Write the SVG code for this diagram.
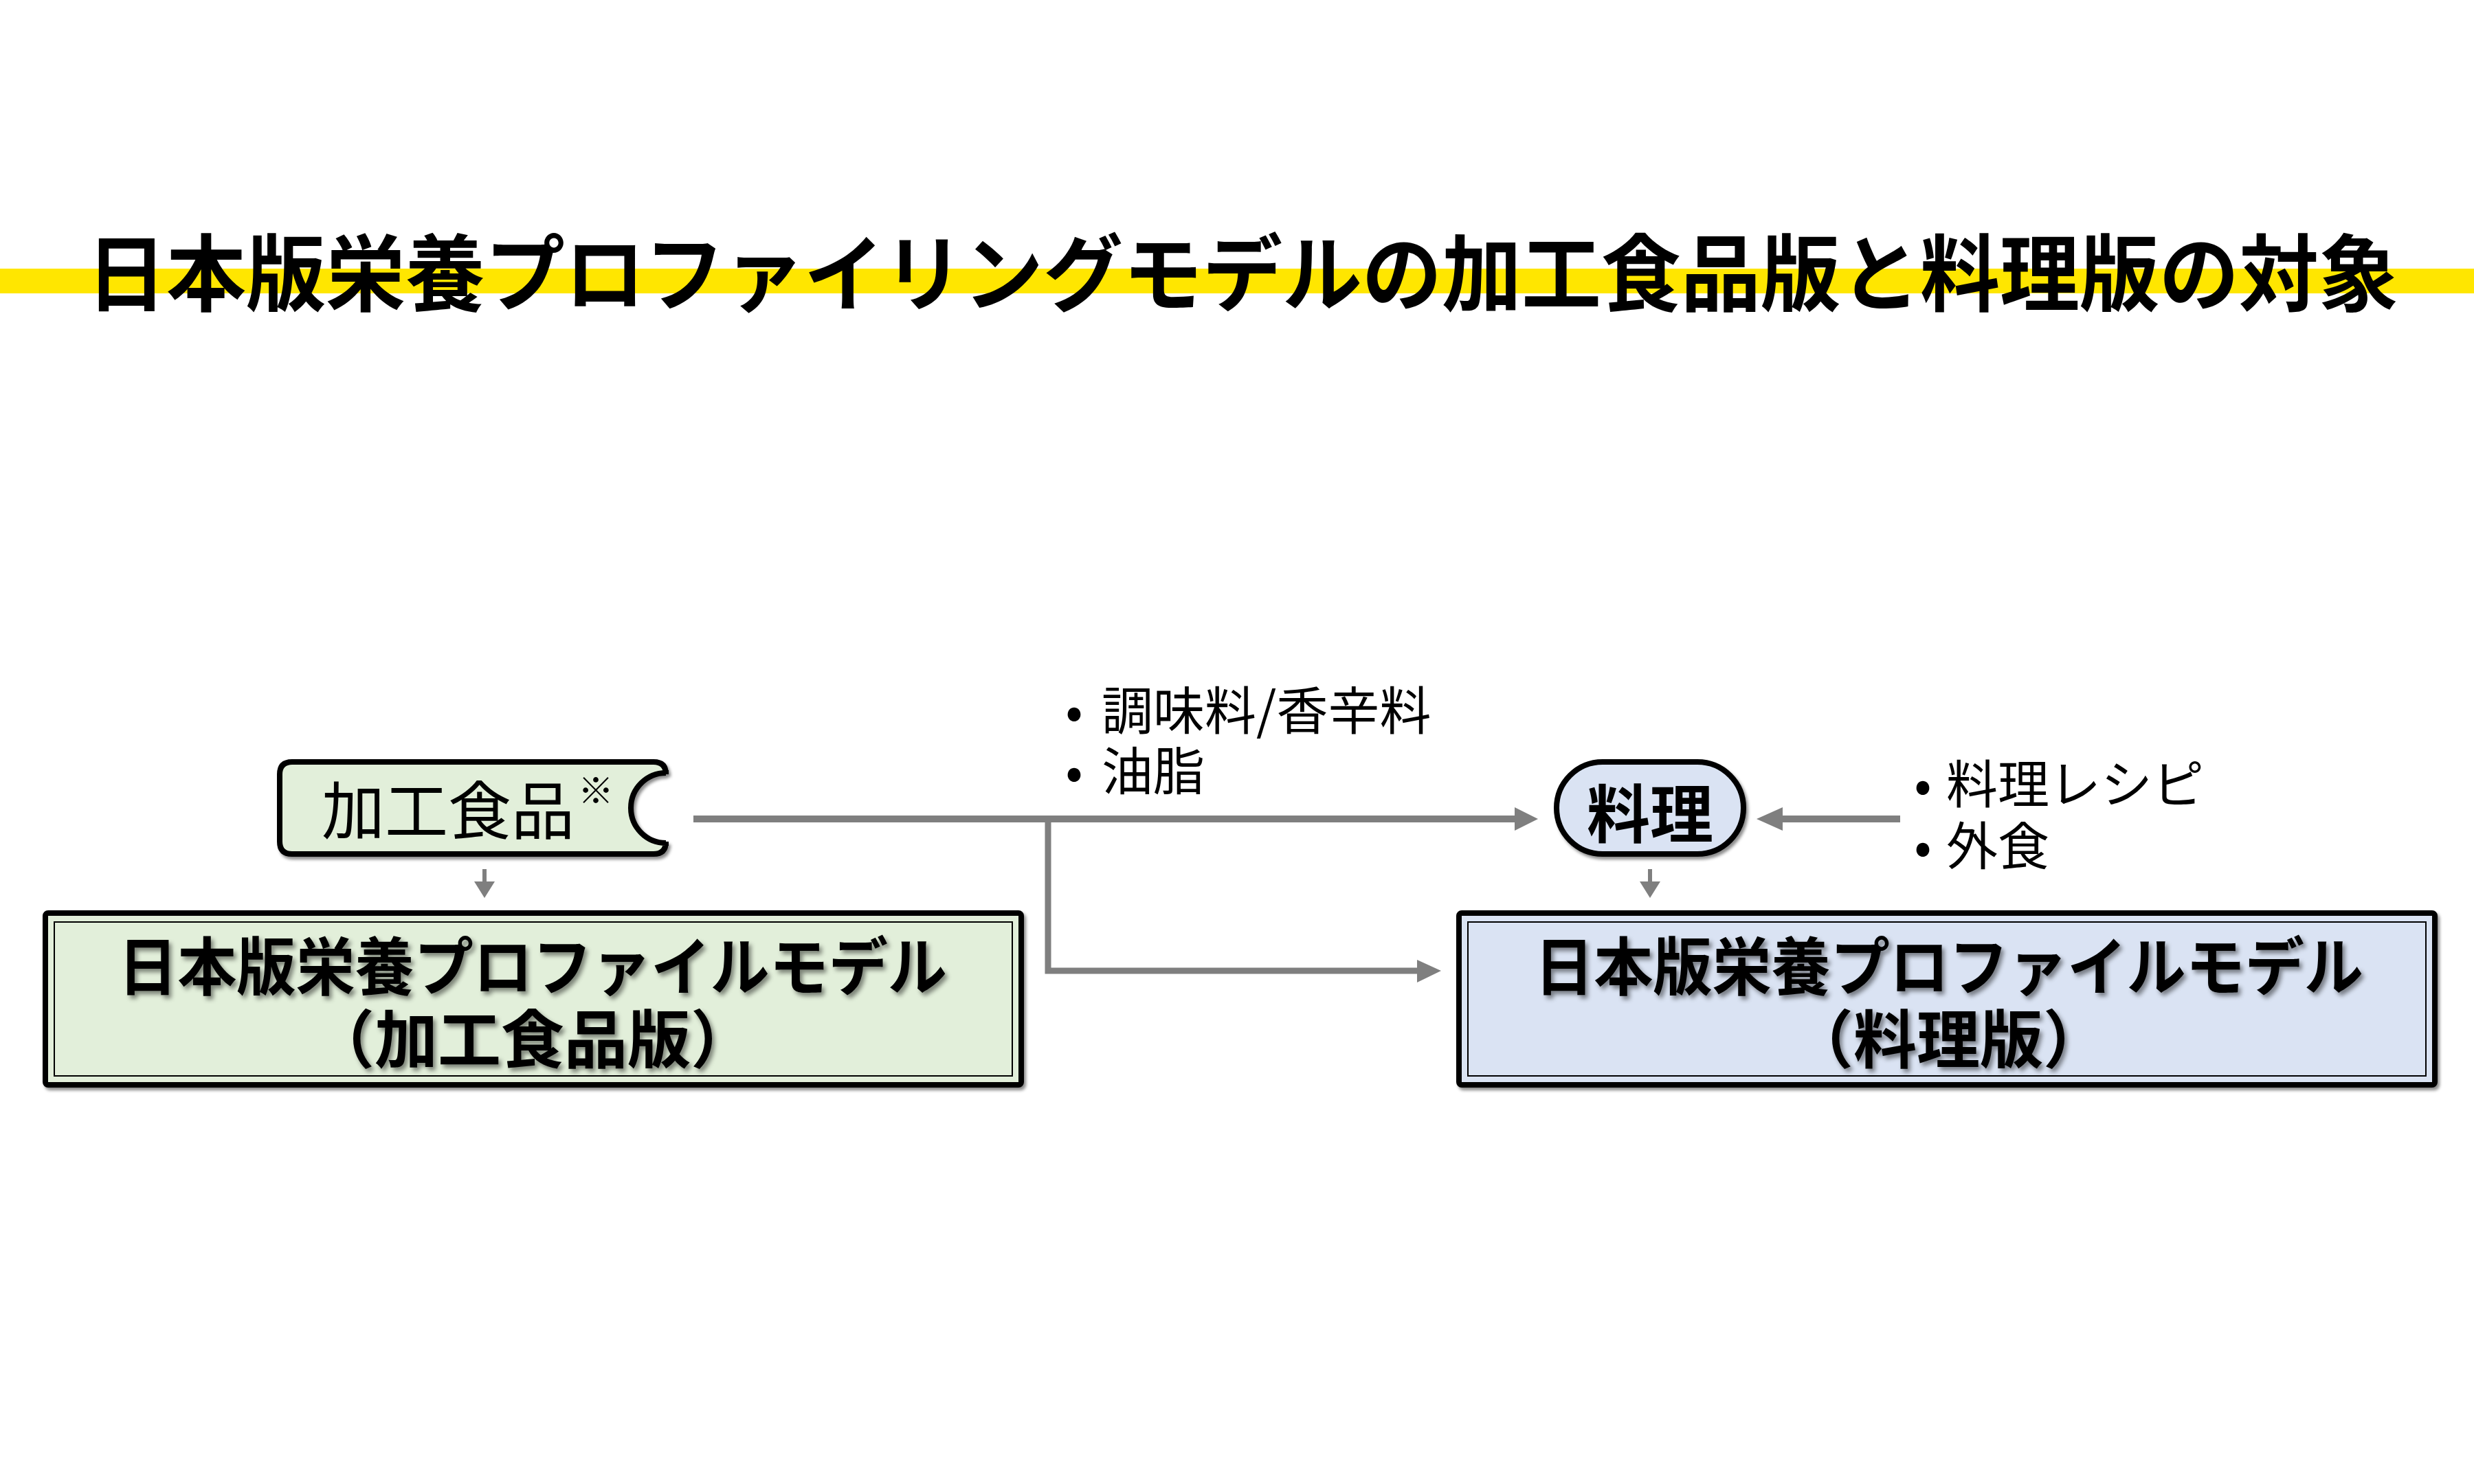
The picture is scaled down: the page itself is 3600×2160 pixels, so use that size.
<svg xmlns="http://www.w3.org/2000/svg" width="3600" height="2160" viewBox="0 0 3600 2160">
<style>
.jp{font-family:"Noto Sans CJK JP","Noto Sans CJK SC",sans-serif;fill:#000}
.title{font-size:122px;font-weight:700}
.node{font-size:92px;font-weight:400}
.nodeb{font-size:92px;font-weight:700}
.box{font-size:92px;font-weight:700}
.lbl{font-size:75px;font-weight:400}
.conn{stroke:#7F7F7F;fill:none}
.head{fill:#7F7F7F}
.green{fill:#E2EFDA}
.blue{fill:#DAE3F3}
</style>
<defs>
<filter id="ts" x="-5%" y="-20%" width="110%" height="140%">
<feDropShadow dx="4" dy="5" stdDeviation="3" flood-color="#000" flood-opacity="0.45"/>
</filter>
<filter id="ss" x="-5%" y="-10%" width="110%" height="125%">
<feDropShadow dx="3" dy="4" stdDeviation="2" flood-color="#000" flood-opacity="0.45"/>
</filter>
</defs>
<rect width="3600" height="2160" fill="#FFFFFF"/>

<g id="title">
<rect x="0" y="391" width="3600" height="36" fill="#FFE600"/>
<text class="jp title" x="126" y="443" textLength="3364" lengthAdjust="spacingAndGlyphs">日本版栄養プロファイリングモデルの加工食品版と料理版の対象</text>
</g>

<g id="connectors">
<line class="conn" x1="1009" y1="1192" x2="2206" y2="1192" stroke-width="10"/>
<polygon class="head" points="2204,1175 2238,1192 2204,1209"/>
<path class="conn" d="M1525 1192 V1413 H2064" stroke-width="9"/>
<polygon class="head" points="2062,1397 2097,1413 2062,1430"/>
<line class="conn" x1="2765" y1="1192" x2="2592" y2="1192" stroke-width="10"/>
<polygon class="head" points="2594,1175 2556,1192 2594,1209"/>
<rect class="head" x="702" y="1265" width="6" height="20"/>
<polygon class="head" points="690,1283 720,1283 705,1307"/>
<rect class="head" x="2398" y="1265" width="6" height="20"/>
<polygon class="head" points="2386,1283 2416,1283 2401,1307"/>
</g>

<g id="node-kakou">
<path class="green" filter="url(#ss)" stroke="#000" stroke-width="8" d="M425 1109 H951 Q969 1109 969 1127 V1125 A51 51 0 0 0 969 1227 V1225 Q969 1243 951 1243 H425 Q407 1243 407 1225 V1127 Q407 1109 425 1109 Z"/>
<text class="jp node" x="652" y="1214" text-anchor="middle">加工食品</text>
<text class="jp" x="867" y="1170" font-size="52" text-anchor="middle">※</text>
</g>

<g id="node-ryouri">
<rect class="blue" filter="url(#ss)" x="2265" y="1109" width="272" height="134" rx="67" ry="67" stroke="#000" stroke-width="8"/>
<text class="jp nodeb" x="2401" y="1219" text-anchor="middle">料理</text>
</g>

<g id="box-kakou">
<rect class="green" filter="url(#ss)" x="66" y="1329" width="1420" height="250" rx="4" stroke="#000" stroke-width="8"/>
<rect x="79" y="1342" width="1394" height="224" fill="none" stroke="#000" stroke-width="2"/>
<g filter="url(#ts)">
<text class="jp box" x="172" y="1441" textLength="1206" lengthAdjust="spacingAndGlyphs">日本版栄養プロファイルモデル</text>
<text class="jp box" x="775" y="1547" text-anchor="middle">（加工食品版）</text>
</g>
</g>

<g id="box-ryouri">
<rect class="blue" filter="url(#ss)" x="2123" y="1329" width="1420" height="250" rx="4" stroke="#000" stroke-width="8"/>
<rect x="2136" y="1342" width="1394" height="224" fill="none" stroke="#000" stroke-width="2"/>
<g filter="url(#ts)">
<text class="jp box" x="2233" y="1441" textLength="1206" lengthAdjust="spacingAndGlyphs">日本版栄養プロファイルモデル</text>
<text class="jp box" x="2835" y="1547" text-anchor="middle">（料理版）</text>
</g>
</g>

<g id="label-left">
<text class="jp lbl" x="1563" y="1062" text-anchor="middle">•</text>
<text class="jp lbl" x="1603" y="1062">調味料/香辛料</text>
<text class="jp lbl" x="1563" y="1150" text-anchor="middle">•</text>
<text class="jp lbl" x="1603" y="1150">油脂</text>
</g>

<g id="label-right">
<text class="jp lbl" x="2798" y="1169" text-anchor="middle">•</text>
<text class="jp lbl" x="2832" y="1169">料理レシピ</text>
<text class="jp lbl" x="2798" y="1259" text-anchor="middle">•</text>
<text class="jp lbl" x="2832" y="1259">外食</text>
</g>
</svg>
